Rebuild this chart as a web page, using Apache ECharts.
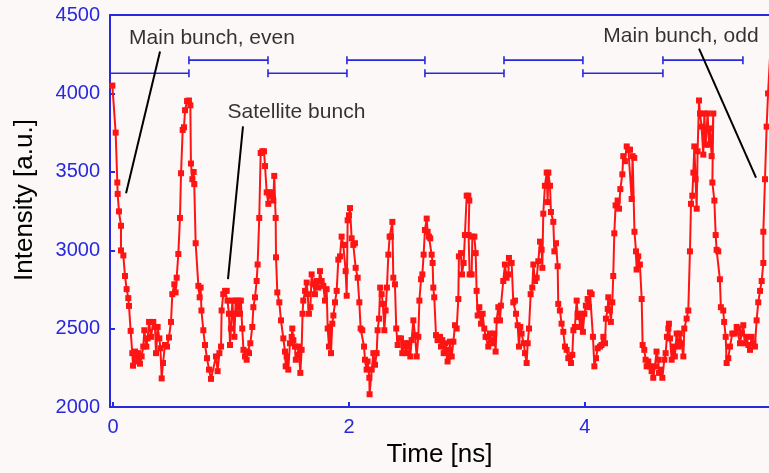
<!DOCTYPE html>
<html>
<head>
<meta charset="utf-8">
<script src="https://cdn.jsdelivr.net/npm/echarts@6/dist/echarts.min.js"></script>
<style>
  html, body { margin: 0; padding: 0; background: #fcf8f8; }
  #chart { width: 769px; height: 473px; }
</style>
</head>
<body>
<div id="chart"></div>
<script>
// ---- data: [time (ns), intensity (a.u.)] ----
const traceSeg1 = [[-0.005,4050],[0.023,3750],[0.037,3432],[0.040,3359],[0.051,3248],[0.068,3156],[0.068,2999],[0.088,2967],[0.102,2836],[0.116,2752],[0.130,2695],[0.136,2645],[0.150,2486],[0.164,2344],[0.170,2264],[0.187,2354],[0.201,2291],[0.215,2344],[0.229,2277],[0.243,2323],[0.257,2386],[0.266,2490],[0.283,2386],[0.294,2438],[0.306,2543],[0.322,2448],[0.342,2543],[0.356,2511],[0.365,2344],[0.379,2511],[0.393,2438],[0.402,2375],[0.413,2183],[0.424,2281],[0.441,2396],[0.458,2386],[0.475,2444],[0.492,2543],[0.503,2720],[0.520,2783],[0.531,2731],[0.540,2825],[0.554,2976],[0.568,3206],[0.577,3491],[0.591,3767],[0.602,3784],[0.611,3893],[0.628,3951],[0.644,3955],[0.656,3924],[0.661,3553],[0.673,3453],[0.684,3499],[0.689,3422],[0.701,3045],[0.724,2773],[0.735,2700],[0.743,2762],[0.750,2616],[0.766,2490],[0.780,2396],[0.797,2312],[0.814,2239],[0.831,2180]];
const traceSeg2 = [[0.873,2323],[0.887,2229],[0.902,2344],[0.916,2386],[0.921,2616],[0.935,2720],[0.950,2741],[0.964,2741],[0.971,2679],[0.983,2595],[0.992,2396],[1.000,2501],[1.012,2679],[1.018,2595],[1.029,2448],[1.040,2679],[1.050,2595],[1.063,2679],[1.077,2595],[1.084,2679],[1.096,2501],[1.106,2365],[1.119,2323],[1.133,2302],[1.141,2354],[1.153,2344],[1.164,2407],[1.181,2511],[1.190,2637],[1.204,2700],[1.218,2804],[1.226,2909],[1.240,3206],[1.252,3620],[1.266,3631],[1.280,3631],[1.289,3537],[1.303,3369],[1.317,3296],[1.324,3369],[1.339,3348],[1.348,3369],[1.359,3317],[1.367,3474],[1.379,3206],[1.382,2955],[1.393,2731],[1.410,2668],[1.424,2553],[1.444,2438],[1.458,2354],[1.464,2260],[1.472,2323],[1.486,2239],[1.500,2407],[1.515,2448],[1.520,2501],[1.529,2427],[1.543,2386],[1.550,2302],[1.565,2333],[1.574,2386],[1.588,2218],[1.599,2365],[1.607,2595],[1.613,2679],[1.628,2741],[1.642,2794],[1.650,2720],[1.661,2595],[1.673,2637],[1.684,2846],[1.698,2783],[1.712,2720],[1.726,2804],[1.741,2762],[1.755,2867],[1.769,2804],[1.783,2773],[1.797,2679]];
const traceSeg3 = [[1.811,2752],[1.820,2501],[1.831,2386],[1.839,2511],[1.848,2344],[1.859,2532],[1.868,2584],[1.882,2668],[1.896,2741],[1.910,2940],[1.924,2961],[1.938,3087],[1.952,3034],[1.961,3034],[1.972,2867],[1.981,2710],[1.989,3191],[2.000,3223],[2.009,3269],[2.023,3076],[2.037,3034],[2.051,3045],[2.057,2888],[2.074,2825],[2.088,2668],[2.099,2501],[2.113,2490],[2.128,2386],[2.136,2302],[2.150,2239],[2.158,2291],[2.173,2187],[2.175,2082],[2.193,2239],[2.207,2344],[2.221,2270],[2.235,2344],[2.243,2490],[2.255,2564],[2.265,2762],[2.277,2720],[2.288,2658],[2.300,2490],[2.311,2616],[2.322,2762],[2.334,2972],[2.345,3087],[2.356,3087],[2.368,3181],[2.376,2825],[2.390,2783],[2.401,2501],[2.413,2396],[2.424,2438],[2.441,2438],[2.452,2344],[2.464,2386],[2.475,2407],[2.486,2344],[2.498,2407],[2.509,2386],[2.520,2323],[2.531,2427],[2.546,2553],[2.560,2459],[2.574,2323],[2.588,2448],[2.597,2679],[2.611,2815],[2.622,2846],[2.633,2972],[2.644,3129],[2.659,3202],[2.667,3118],[2.678,3087],[2.689,3076],[2.701,2972],[2.709,2919],[2.715,2762],[2.723,2700],[2.738,2459],[2.751,2427]];
const traceSeg4 = [[2.772,2448],[2.780,2386],[2.791,2427],[2.803,2344],[2.814,2407],[2.828,2365],[2.836,2291],[2.847,2323],[2.856,2417],[2.871,2323],[2.885,2417],[2.899,2522],[2.913,2501],[2.927,2689],[2.932,2961],[2.950,2982],[2.958,2846],[2.972,2919],[2.983,3097],[2.998,3348],[3.012,3348],[3.020,3317],[3.014,3097],[3.023,2846],[3.040,2846],[3.046,3087],[3.063,3087],[3.074,2982],[3.082,2741],[3.091,2584],[3.105,2637],[3.119,2532],[3.133,2595],[3.147,2501],[3.158,2448],[3.173,2448],[3.181,2386],[3.195,2469],[3.209,2427],[3.223,2407],[3.232,2469],[3.243,2354],[3.252,2553],[3.266,2637],[3.280,2553],[3.288,2647],[3.308,2804],[3.322,2909],[3.336,2825],[3.351,2846],[3.356,2951],[3.379,2919],[3.393,2668],[3.407,2679],[3.416,2595],[3.430,2522],[3.441,2386],[3.452,2511],[3.463,2469],[3.481,2407],[3.492,2344],[3.506,2281],[3.515,2407],[3.526,2501],[3.540,2720],[3.554,2762],[3.563,2909],[3.577,2804],[3.591,2825],[3.605,2930],[3.619,3055],[3.633,3003],[3.639,2888],[3.647,3233],[3.661,3411],[3.676,3495]];
const traceSeg5 = [[3.684,3307],[3.690,3495],[3.704,3411],[3.712,3244],[3.732,3181],[3.741,2993],[3.755,3045],[3.769,2898],[3.774,2658],[3.788,2616],[3.802,2532],[3.817,2480],[3.831,2386],[3.845,2365],[3.859,2312],[3.873,2323],[3.882,2281],[3.893,2333],[3.902,2490],[3.915,2511],[3.930,2679],[3.938,2595],[3.950,2574],[3.961,2511],[3.972,2595],[3.983,2480],[3.995,2595],[4.008,2647],[4.023,2689],[4.034,2637],[4.043,2731],[4.057,2720],[4.068,2448],[4.080,2260],[4.094,2312],[4.108,2375],[4.127,2386],[4.141,2396],[4.156,2448],[4.170,2407],[4.178,2564],[4.193,2626],[4.198,2700],[4.212,2616],[4.220,2543],[4.232,2668],[4.240,2836],[4.249,3108],[4.260,3286],[4.277,3317],[4.289,3265],[4.300,3390],[4.317,3484],[4.325,3600],[4.339,3568],[4.354,3662],[4.368,3641],[4.382,3641],[4.396,3327],[4.404,3600],[4.418,3589],[4.420,3118],[4.433,2993],[4.438,2877],[4.452,2961],[4.466,2909],[4.481,2689],[4.489,2396],[4.503,2365],[4.514,2302],[4.523,2260],[4.537,2291],[4.551,2260],[4.565,2229],[4.579,2187],[4.593,2260],[4.607,2354],[4.621,2302]];
const traceSeg6 = [[4.628,2218],[4.644,2239],[4.656,2187],[4.673,2302],[4.684,2344],[4.695,2448],[4.707,2501],[4.712,2532],[4.721,2438],[4.735,2302],[4.749,2386],[4.762,2323],[4.777,2469],[4.791,2386],[4.805,2469],[4.819,2407],[4.834,2323],[4.842,2501],[4.862,2564],[4.876,2616],[4.890,2993],[4.899,3296],[4.910,3348],[4.919,3495],[4.927,3662],[4.938,3453],[4.947,3265],[4.955,3631],[4.967,3955],[4.975,3872],[4.989,3788],[5.003,3610],[5.012,3872],[5.023,3673],[5.040,3872],[5.051,3673],[5.060,3777],[5.074,3600],[5.088,3872],[5.080,3432],[5.097,3317],[5.108,3097],[5.116,3003],[5.130,2993],[5.144,2815],[5.152,2637],[5.172,2616],[5.180,2543],[5.193,2448],[5.201,2281],[5.215,2312],[5.229,2386],[5.249,2469],[5.266,2469],[5.286,2511],[5.300,2501],[5.314,2407],[5.328,2469],[5.342,2522],[5.356,2407],[5.370,2448],[5.385,2396],[5.399,2365],[5.413,2448],[5.427,2407],[5.441,2386],[5.455,2553],[5.469,2668],[5.484,2741],[5.498,2804],[5.512,2919],[5.512,3118],[5.526,3453],[5.540,3788],[5.552,4000],[5.570,4250]];

// bunch spacing brackets (edges in ns, alternating levels in a.u.)
const bracketEdges = [-0.025, 0.644, 1.314, 1.983, 2.644, 3.314, 3.983, 4.661, 5.339];
const bracketLevels = [4129, 4212];

// annotations
const annotLabels = ['Main bunch, even', 'Satellite bunch', 'Main bunch, odd'];
const annotLabelAt = [[0.839, 4355], [1.555, 3878], [4.814, 4366]];
const annotLineFrom = [[0.399, 4267], [1.102, 3790], [4.967, 4286]];
const annotLineTo = [[0.111, 3363], [0.975, 2816], [5.450, 3463]];

// axes
const xTickValues = [0, 2, 4];

const BLUE = '#2828dc';
const RED = '#ff1414';
const FONT = 'Liberation Sans, Arial, sans-serif';

const trace = [].concat(traceSeg1, traceSeg2, traceSeg3, traceSeg4, traceSeg5, traceSeg6);

const bracketData = [];
for (let i = 0; i < bracketEdges.length - 1; i++) {
  bracketData.push([bracketEdges[i], bracketEdges[i + 1], bracketLevels[i % 2]]);
}

function renderBracket(params, api) {
  const p0 = api.coord([api.value(0), api.value(2)]);
  const p1 = api.coord([api.value(1), api.value(2)]);
  const h = 4;
  const st = { stroke: BLUE, lineWidth: 1.6 };
  return {
    type: 'group',
    children: [
      { type: 'line', shape: { x1: p0[0], y1: p0[1], x2: p1[0], y2: p1[1] }, style: st },
      { type: 'line', shape: { x1: p0[0], y1: p0[1] - h, x2: p0[0], y2: p0[1] + h }, style: st },
      { type: 'line', shape: { x1: p1[0], y1: p1[1] - h, x2: p1[0], y2: p1[1] + h }, style: st }
    ]
  };
}

const annotSeries = annotLineFrom.map((p, i) => ({
  type: 'line',
  data: [p, annotLineTo[i]],
  symbol: 'none',
  lineStyle: { color: '#000', width: 2 },
  z: 5,
  silent: true,
  animation: false
}));

const chart = echarts.init(document.getElementById('chart'), null, { renderer: 'canvas' });
chart.setOption({
  backgroundColor: '#fcf8f8',
  animation: false,
  grid: { left: 110, right: 0, top: 15, bottom: 60 },
  xAxis: [{
    type: 'value',
    min: -0.025,
    max: 5.56,
    name: 'Time [ns]',
    nameLocation: 'middle',
    nameGap: 28,
    nameTextStyle: { color: '#000', fontSize: 26, fontFamily: FONT },
    axisLine: { show: true, onZero: false, lineStyle: { color: BLUE, width: 2 } },
    axisTick: { show: true, inside: true, length: 5, customValues: xTickValues, lineStyle: { color: BLUE, width: 2 } },
    axisLabel: { show: true, customValues: xTickValues, color: BLUE, fontSize: 20, fontFamily: FONT, margin: 10 },
    splitLine: { show: false }
  }, {
    type: 'value',
    position: 'top',
    min: -0.025,
    max: 5.56,
    axisLine: { show: true, onZero: false, lineStyle: { color: BLUE, width: 2 } },
    axisTick: { show: false },
    axisLabel: { show: false },
    splitLine: { show: false }
  }],
  yAxis: {
    type: 'value',
    min: 2000,
    max: 4500,
    interval: 500,
    name: 'Intensity [a.u.]',
    nameLocation: 'middle',
    nameGap: 72,
    nameTextStyle: { color: '#000', fontSize: 26, fontFamily: FONT, padding: [0, 0, 0, 22] },
    axisLine: { show: true, onZero: false, lineStyle: { color: BLUE, width: 2 } },
    axisTick: { show: true, inside: true, length: 5, lineStyle: { color: BLUE, width: 2 } },
    axisLabel: { color: BLUE, fontSize: 20, fontFamily: FONT, margin: 10, formatter: (v) => String(v) },
    splitLine: { show: false }
  },
  series: [
    {
      type: 'custom',
      renderItem: renderBracket,
      data: bracketData,
      encode: { x: [0, 1], y: 2 },
      clip: false,
      silent: true,
      z: 4
    },
    {
      type: 'line',
      data: trace,
      symbol: 'rect',
      symbolSize: 6,
      showAllSymbol: true,
      itemStyle: { color: RED },
      lineStyle: { color: RED, width: 2 },
      clip: true,
      z: 3
    },
    ...annotSeries,
    {
      type: 'scatter',
      data: annotLabelAt.map((p, i) => ({ value: p, name: annotLabels[i] })),
      symbolSize: 0,
      label: {
        show: true,
        position: 'inside',
        formatter: (d) => d.name,
        color: '#000',
        fontSize: 21,
        fontFamily: FONT
      },
      z: 6,
      silent: true
    }
  ]
});
</script>
</body>
</html>
